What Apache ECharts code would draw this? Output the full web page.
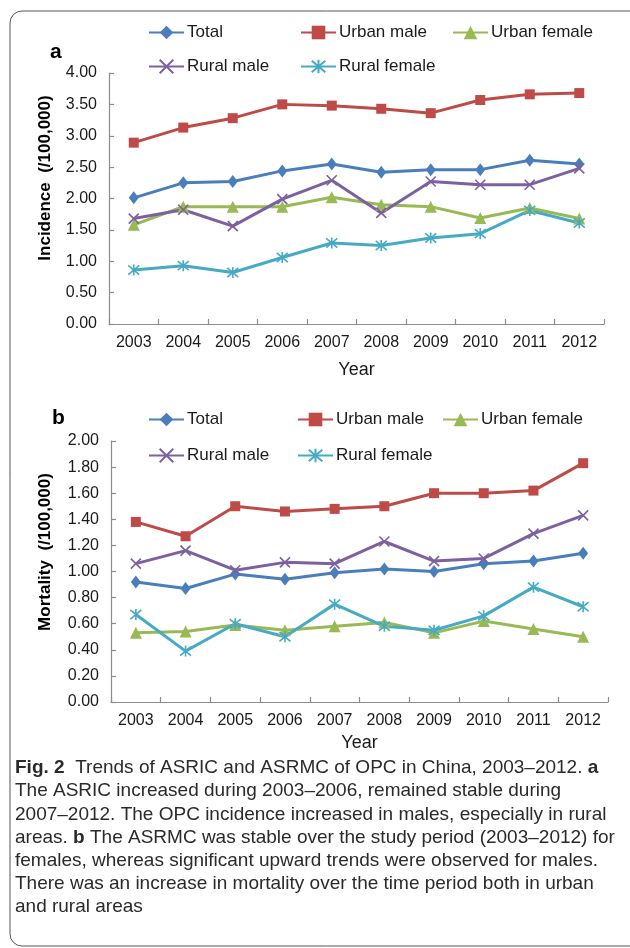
<!DOCTYPE html>
<html>
<head>
<meta charset="utf-8">
<script src="https://cdn.jsdelivr.net/npm/echarts@6/dist/echarts.min.js"></script>
<style>
  html, body { margin: 0; padding: 0; background: #fff; }
  #chart { width: 630px; height: 948px; }
</style>
</head>
<body>
<div id="chart"></div>
<script>
// years on the x axis
const years = ['2003', '2004', '2005', '2006', '2007', '2008', '2009', '2010', '2011', '2012'];

// a: incidence (/100,000)
const incTotal = [2.01, 2.25, 2.27, 2.44, 2.55, 2.42, 2.46, 2.46, 2.61, 2.55];
const incUrbanMale = [2.89, 3.13, 3.28, 3.50, 3.48, 3.43, 3.36, 3.57, 3.66, 3.68];
const incUrbanFemale = [1.58, 1.87, 1.87, 1.87, 2.02, 1.90, 1.87, 1.69, 1.85, 1.68];
const incRuralMale = [1.68, 1.82, 1.56, 1.99, 2.29, 1.77, 2.27, 2.22, 2.22, 2.48];
const incRuralFemale = [0.86, 0.93, 0.82, 1.06, 1.29, 1.25, 1.37, 1.44, 1.81, 1.61];

// b: mortality (/100,000)
const morTotal = [0.92, 0.87, 0.98, 0.94, 0.99, 1.02, 1.00, 1.06, 1.08, 1.14];
const morUrbanMale = [1.38, 1.27, 1.50, 1.46, 1.48, 1.50, 1.60, 1.60, 1.62, 1.83];
const morUrbanFemale = [0.53, 0.54, 0.59, 0.55, 0.58, 0.61, 0.53, 0.62, 0.56, 0.50];
const morRuralMale = [1.06, 1.16, 1.01, 1.07, 1.06, 1.23, 1.08, 1.10, 1.29, 1.43];
const morRuralFemale = [0.67, 0.39, 0.60, 0.50, 0.75, 0.58, 0.55, 0.66, 0.88, 0.73];

const seriesNames = ['Total', 'Urban male', 'Urban female', 'Rural male', 'Rural female'];

const captionLines = [
  '{b|Fig. 2}  Trends of ASRIC and ASRMC of OPC in China, 2003\u20132012. {b|a}',
  'The ASRIC increased during 2003\u20132006, remained stable during',
  '2007\u20132012. The OPC incidence increased in males, especially in rural',
  'areas. {b|b} The ASRMC was stable over the study period (2003\u20132012) for',
  'females, whereas significant upward trends were observed for males.',
  'There was an increase in mortality over the time period both in urban',
  'and rural areas'
];

const colors = ['#4a7ebb', '#be4b48', '#98b954', '#7d60a0', '#46aac5'];
const symbols = [
  'diamond',
  'rect',
  'triangle',
  'path://M0,0L10,10M10,0L0,10',
  'path://M0,0L10,10M10,0L0,10M5,-1L5,11'
];
const symbolSizes = [[10, 13], 10, 12, 10, 11];

const font = 'Liberation Sans, Arial, sans-serif';
const axisColor = '#8c8c8c';
const textColor = '#1a1a1a';

const chart = echarts.init(document.getElementById('chart'));

const makeSeries = (gridIndex, data) =>
  data.map((d, i) => ({
    name: seriesNames[i],
    type: 'line',
    xAxisIndex: gridIndex,
    yAxisIndex: gridIndex,
    data: d,
    symbol: symbols[i],
    symbolSize: symbolSizes[i],
    showAllSymbol: true,
    lineStyle: { color: colors[i], width: 3 },
    itemStyle: {
      color: colors[i],
      borderColor: colors[i],
      borderWidth: i >= 3 ? 1.6 : 0
    },
    emphasis: { disabled: true },
    animation: false
  }));

// one legend per item so each sits where it does in the figure
const legendPos = [
  // a
  [148, 24, 0], [300, 24, 1], [452, 24, 2], [148, 58, 3], [300, 58, 4],
  // b
  [148, 411, 0], [297, 411, 1], [442, 411, 2], [148, 447, 3], [297, 447, 4]
];
const legends = legendPos.map(p => ({
  left: p[0],
  top: p[1],
  data: [seriesNames[p[2]]],
  itemWidth: 35,
  itemHeight: 17,
  itemGap: 0,
  padding: 0,
  selectedMode: false,
  textStyle: { fontFamily: font, fontSize: 17, color: textColor, padding: [0, 0, 0, -2] }
}));

const makeY = (gridIndex, max, interval) => ({
  type: 'value',
  gridIndex,
  min: 0,
  max,
  interval,
  splitLine: { show: false },
  axisLine: { show: true, lineStyle: { color: axisColor, width: 1.2 } },
  axisTick: { show: true, inside: true, length: 5, lineStyle: { color: axisColor, width: 1.2 } },
  axisLabel: {
    margin: 12,
    fontFamily: font,
    fontSize: 16,
    color: textColor,
    formatter: v => v.toFixed(2)
  }
});

const makeX = (gridIndex, gap) => ({
  type: 'category',
  gridIndex,
  data: years,
  boundaryGap: true,
  name: 'Year',
  nameLocation: 'middle',
  nameGap: gap,
  nameTextStyle: { fontFamily: font, fontSize: 18, color: textColor },
  axisLine: { lineStyle: { color: axisColor, width: 1.2 } },
  axisTick: { show: true, inside: true, length: 5, alignWithLabel: false, lineStyle: { color: axisColor, width: 1.2 } },
  axisLabel: { margin: 11, fontFamily: font, fontSize: 16, color: textColor, interval: 0 }
});

const graphics = [
  {
    type: 'rect',
    silent: true,
    shape: { x: 10, y: 11, width: 650, height: 935, r: 12 },
    style: { fill: 'none', stroke: '#555', lineWidth: 1 }
  },
  { type: 'text', x: 50, y: 52, style: { text: 'a', font: 'bold 21px ' + font, fill: '#000', verticalAlign: 'middle' } },
  { type: 'text', x: 52, y: 418, style: { text: 'b', font: 'bold 21px ' + font, fill: '#000', verticalAlign: 'middle' } },
  {
    type: 'text', x: 45, y: 178, rotation: Math.PI / 2,
    style: { text: 'Incidence  (/100,000)', font: 'bold 17px ' + font, fill: '#000', align: 'center', verticalAlign: 'middle' }
  },
  {
    type: 'text', x: 45, y: 552, rotation: Math.PI / 2,
    style: { text: 'Mortality  (/100,000)', font: 'bold 17px ' + font, fill: '#000', align: 'center', verticalAlign: 'middle' }
  }
].concat(captionLines.map((line, i) => ({
  type: 'text',
  x: 15,
  y: 768 + i * 23.2,
  style: {
    text: line,
    fontFamily: font,
    fontSize: 19,
    fill: '#2a2a2a',
    verticalAlign: 'middle',
    rich: { b: { fontWeight: 'bold', fontSize: 19, fontFamily: font, color: '#111' } }
  }
})));

const option = {
  backgroundColor: '#fff',
  animation: false,
  legend: legends,
  grid: [
    { left: 109, top: 73, width: 495, height: 251 },
    { left: 111, top: 441, width: 497, height: 261 }
  ],
  xAxis: [makeX(0, 37), makeX(1, 32)],
  yAxis: [makeY(0, 4, 0.5), makeY(1, 2, 0.2)],
  series: makeSeries(0, [incTotal, incUrbanMale, incUrbanFemale, incRuralMale, incRuralFemale])
    .concat(makeSeries(1, [morTotal, morUrbanMale, morUrbanFemale, morRuralMale, morRuralFemale])),
  graphic: graphics
};

chart.setOption(option);
</script>
</body>
</html>
